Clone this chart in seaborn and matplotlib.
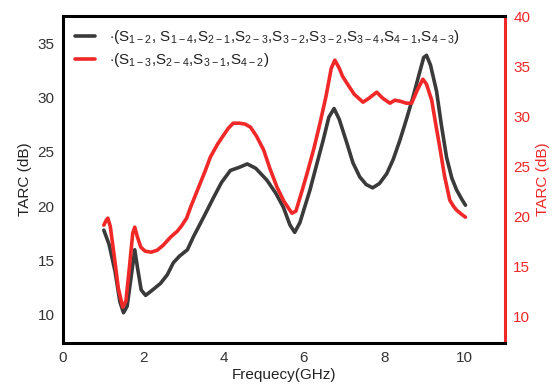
import numpy as np
import pandas as pd
import matplotlib
matplotlib.use('Agg')
import matplotlib.pyplot as plt
import seaborn as sns

sns.set_style('white')
plt.rcParams['font.family'] = ['Liberation Sans', 'DejaVu Sans']
plt.rcParams['mathtext.fontset'] = 'custom'
plt.rcParams['mathtext.rm'] = 'Liberation Sans'

# Curva negra (eje izquierdo)
freq_black = [1.02, 1.15, 1.3, 1.42, 1.51, 1.6, 1.7, 1.79, 1.86, 1.95, 2.06, 2.2, 2.43, 2.6,
              2.75, 2.9, 3.1, 3.25, 3.42, 3.6, 3.75, 3.95, 4.17, 4.4, 4.59, 4.8, 5.08, 5.3,
              5.49, 5.65, 5.77, 5.9, 6.05, 6.15, 6.3, 6.48, 6.62, 6.75, 6.88, 7.07, 7.22,
              7.39, 7.55, 7.71, 7.88, 8.06, 8.22, 8.39, 8.55, 8.71, 8.87, 8.98, 9.05, 9.15,
              9.3, 9.42, 9.55, 9.68, 9.8, 9.92, 10.02]
tarc_black = [17.8, 16.5, 14.0, 11.2, 10.2, 10.8, 13.5, 16.0, 14.3, 12.3, 11.8, 12.2, 12.9, 13.7,
              14.8, 15.4, 16.0, 17.2, 18.4, 19.7, 20.8, 22.2, 23.3, 23.6, 23.9, 23.5, 22.4, 21.2,
              19.9, 18.3, 17.6, 18.5, 20.3, 21.5, 23.6, 26.1, 28.2, 29.0, 28.0, 25.8, 24.0,
              22.7, 22.0, 21.7, 22.1, 23.0, 24.3, 26.1, 28.0, 30.0, 32.2, 33.7, 33.9, 33.0,
              30.6, 27.5, 24.5, 22.6, 21.5, 20.7, 20.1]

# Curva roja (eje derecho)
freq_red = [1.02, 1.08, 1.12, 1.18, 1.28, 1.38, 1.49, 1.57, 1.66, 1.74, 1.79, 1.85, 1.94, 2.05,
            2.2, 2.35, 2.5, 2.68, 2.85, 2.95, 3.08, 3.18, 3.3, 3.42, 3.55, 3.67, 3.85, 4.0,
            4.12, 4.24, 4.4, 4.54, 4.67, 4.82, 5.0, 5.15, 5.33, 5.5, 5.7, 5.8, 5.95, 6.08,
            6.25, 6.4, 6.55, 6.68, 6.77, 6.88, 6.96, 7.07, 7.25, 7.47, 7.62, 7.81, 7.96, 8.14,
            8.26, 8.39, 8.55, 8.68, 8.82, 8.96, 9.05, 9.18, 9.28, 9.38, 9.5, 9.63, 9.72, 9.8,
            9.92, 10.02]
tarc_red = [19.1, 19.6, 19.8, 19.0, 16.0, 12.8, 10.9, 11.5, 15.0, 18.3, 18.9, 18.0, 16.9, 16.5,
            16.4, 16.6, 17.1, 17.9, 18.5, 19.0, 19.8, 20.9, 22.1, 23.3, 24.6, 25.9, 27.2, 28.1,
            28.8, 29.3, 29.3, 29.2, 28.9, 28.0, 26.6, 24.8, 22.9, 21.5, 20.3, 20.5, 22.5, 24.3,
            26.8, 29.3, 32.0, 34.8, 35.6, 34.8, 34.0, 33.3, 32.2, 31.4, 31.8, 32.4, 31.8, 31.3,
            31.6, 31.5, 31.3, 31.3, 32.6, 33.7, 33.2, 31.6, 29.2, 26.9, 24.0, 21.6, 21.0, 20.6,
            20.2, 19.9]

label_black = (r'$\cdot$(S$_{\mathregular{1-2}}$, S$_{\mathregular{1-4}}$,S$_{\mathregular{2-1}}$,'
               r'S$_{\mathregular{2-3}}$,S$_{\mathregular{3-2}}$,S$_{\mathregular{3-2}}$,'
               r'S$_{\mathregular{3-4}}$,S$_{\mathregular{4-1}}$,S$_{\mathregular{4-3}}$)')
label_red = (r'$\cdot$(S$_{\mathregular{1-3}}$,S$_{\mathregular{2-4}}$,'
             r'S$_{\mathregular{3-1}}$,S$_{\mathregular{4-2}}$)')

black = '#3a3a3a'
red = '#f02828'

df_b = pd.DataFrame({'f': freq_black, 't': tarc_black})
df_r = pd.DataFrame({'f': freq_red, 't': tarc_red})

fig = plt.figure(figsize=(5.56, 3.86), dpi=100)
ax = fig.add_axes([0.113, 0.111, 0.795, 0.847])
ax2 = ax.twinx()

sns.lineplot(data=df_b, x='f', y='t', ax=ax, color=black, lw=2.6, label=label_black, legend=False)
sns.lineplot(data=df_r, x='f', y='t', ax=ax2, color=red, lw=2.6, label=label_red, legend=False)
for ln in ax.lines + ax2.lines:
    ln.set_solid_joinstyle('round')
    ln.set_solid_capstyle('round')

ax.set_xlim(0, 11)
ax.set_ylim(7.4, 37.5)
ax2.set_ylim(7.3, 40)
ax.set_xticks([0, 2, 4, 6, 8, 10])
ax.set_yticks([10, 15, 20, 25, 30, 35])
ax2.set_yticks([10, 15, 20, 25, 30, 35, 40])

ax.set_xlabel('Frequecy(GHz)', fontsize=11, color='#222222', labelpad=2)
ax.set_ylabel('TARC (dB)', fontsize=11, color='#222222', labelpad=4)
ax2.set_ylabel('TARC (dB)', fontsize=11, color=red, labelpad=4)

ax.tick_params(axis='both', length=0, labelsize=11, labelcolor='#333333', pad=6)
ax2.tick_params(axis='y', length=0, labelsize=11, labelcolor=red, pad=6)

for s in ['left', 'bottom', 'top']:
    ax2.spines[s].set_color('black')
    ax2.spines[s].set_linewidth(2.2)
ax2.spines['right'].set_color(red)
ax2.spines['right'].set_linewidth(2.2)
ax.spines['right'].set_visible(False)
ax.patch.set_visible(False)

h1, l1 = ax.get_legend_handles_labels()
h2, l2 = ax2.get_legend_handles_labels()
leg = ax2.legend(h1 + h2, l1 + l2, loc='upper left', frameon=False, fontsize=11,
                 handlelength=1.3, handletextpad=0.9, labelspacing=0.3,
                 borderaxespad=0.4, bbox_to_anchor=(0.0, 1.0))
for t in leg.get_texts():
    t.set_color('#222222')

fig.savefig('out.png', dpi=100)
